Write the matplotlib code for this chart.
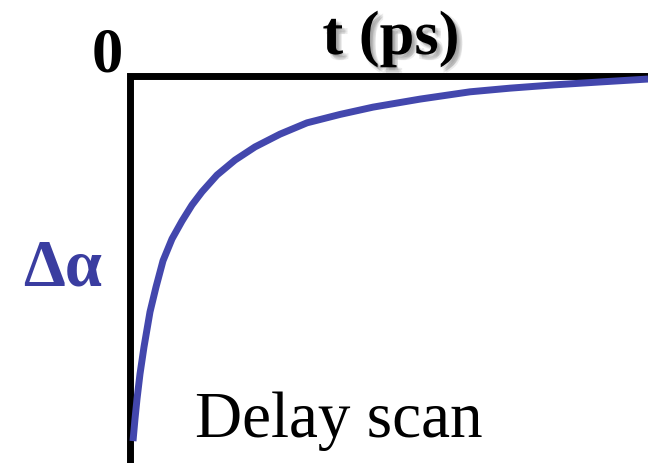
import numpy as np
import matplotlib.pyplot as plt
import matplotlib.patheffects as pe

#Delay time (ps) and absorption change (arb. units)
t_ps=[0.06,0.10,0.14,0.20,0.28,0.40,0.52,0.66,0.84,1.04,1.24,1.44,1.74,2.10,
      2.50,3.00,3.54,4.20,4.86,5.80,6.80,7.60,8.48,9.40,10.36]
d_alpha=[-9.99,-9.38,-8.84,-8.15,-7.41,-6.45,-5.77,-5.05,-4.45,-3.96,-3.52,
         -3.16,-2.70,-2.29,-1.93,-1.58,-1.27,-1.04,-0.84,-0.62,-0.42,-0.32,
         -0.23,-0.15,-0.07]

W,H=648,464
fig=plt.figure(figsize=(W/100,H/100),dpi=100)
ax=fig.add_axes([0,0,1,1])
ax.set_xlim(-2.6,10.36)
ax.set_ylim(-10.59,2.123)
ax.axis('off')

#Axes drawn by hand (corner at t=0, signal=0)
ax.plot([0,0,10.36],[-10.59,0,0],color='black',lw=5,
        solid_joinstyle='miter',solid_capstyle='butt')

#Decay curve
ax.plot(t_ps,d_alpha,color='#4347AD',lw=5,solid_capstyle='butt',
        solid_joinstyle='round')

serif=['Liberation Serif','DejaVu Serif']
def px(x,y):
    return x/W,1-y/H

# soft shadow behind the axis title
shadow=[pe.SimplePatchShadow(offset=(dx,dy),shadow_rgbFace='black',alpha=0.07)
        for dx,dy in [(1,-1),(2,-2),(3,-3),(4,-4),(2,-4),(4,-2)]]

fig.text(*px(107,72),'0',family=serif,fontsize=45,fontweight='bold',
         ha='center',va='baseline')
fig.text(*px(391,55),'t (ps)',family=serif,fontsize=45,fontweight='bold',
         ha='center',va='baseline',path_effects=shadow+[pe.Normal()])
fig.text(*px(23,285),'Δα',family=serif,fontsize=48,fontweight='bold',
         color='#3A3DA0',ha='left',va='baseline')
fig.text(*px(195,437),'Delay scan',family=serif,fontsize=47,
         ha='left',va='baseline')

fig.savefig('out.png',dpi=100)
